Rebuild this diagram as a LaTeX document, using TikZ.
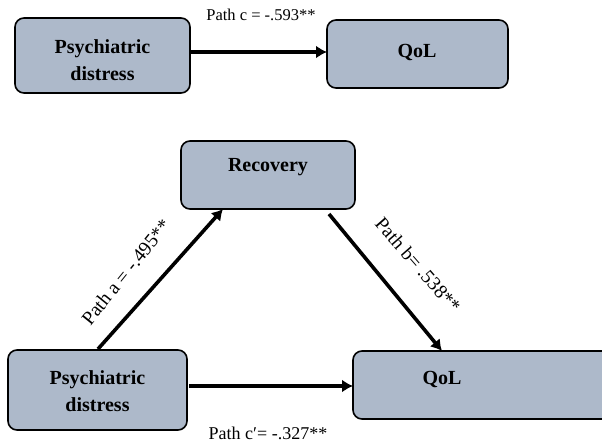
\documentclass[tikz,border=0pt]{standalone}
\usepackage{fontspec}
\setmainfont{Liberation Serif}
\usetikzlibrary{arrows.meta}
\definecolor{boxfill}{HTML}{ADB9CA}
\tikzset{
  box/.style={draw=black, line width=1.6pt, fill=boxfill, rounded corners=9pt},
  boxtext/.style={font=\fontsize{20}{27}\selectfont\bfseries, align=center},
  conn/.style={line width=3.6pt, -{Latex[length=11pt,width=13pt]}},
  lbl/.style={font=\fontsize{16.5}{19}\selectfont},
  biglbl/.style={font=\fontsize{19.5}{22}\selectfont}
}
\begin{document}
\begin{tikzpicture}[x=1pt,y=-1pt]
\clip (0,0) rectangle (602,444);
\useasboundingbox (0,0) rectangle (602,444);
% top row
\draw[box] (15,18) rectangle (190,93);
\node[boxtext] (p1) at (102.5,60) {Psychiatric\\distress};
\coordinate (p1r) at (191,52);
\draw[box] (327,20) rectangle (508,88);
\node[boxtext] (q1) at (417,52) {QoL};
\coordinate (q1l) at (327,52);
\draw[conn] (p1r) -- (q1l);
\node[lbl] (lc) at (261,15) {Path c = -.593**};
% bottom
\draw[box] (181,141) rectangle (355,209);
\node[boxtext] (r) at (268,167) {Recovery};
\draw[box] (8,350) rectangle (187,430);
\node[boxtext] (p2) at (97.5,391) {Psychiatric\\distress};
\draw[box] (353,351) rectangle (640,419);
\node[boxtext] (q2) at (442,379) {QoL};
\coordinate (pa) at (98,349);
\coordinate (ra) at (223,209);
\coordinate (rb) at (329,214);
\coordinate (qb) at (442,351);
\coordinate (p2r) at (189,386);
\coordinate (q2l) at (353,386);
\draw[conn] (pa) -- (ra);
\draw[conn] (rb) -- (qb);
\draw[conn] (p2r) -- (q2l);
\node[biglbl, rotate=51] (la) at (126,272) {Path a = -.495**};
\node[biglbl, rotate=-49] (lb) at (418,265) {Path b= .538**};
\node[font=\fontsize{18}{20}\selectfont] (lcp) at (268,433) {Path c′= -.327**};
\end{tikzpicture}
\end{document}
